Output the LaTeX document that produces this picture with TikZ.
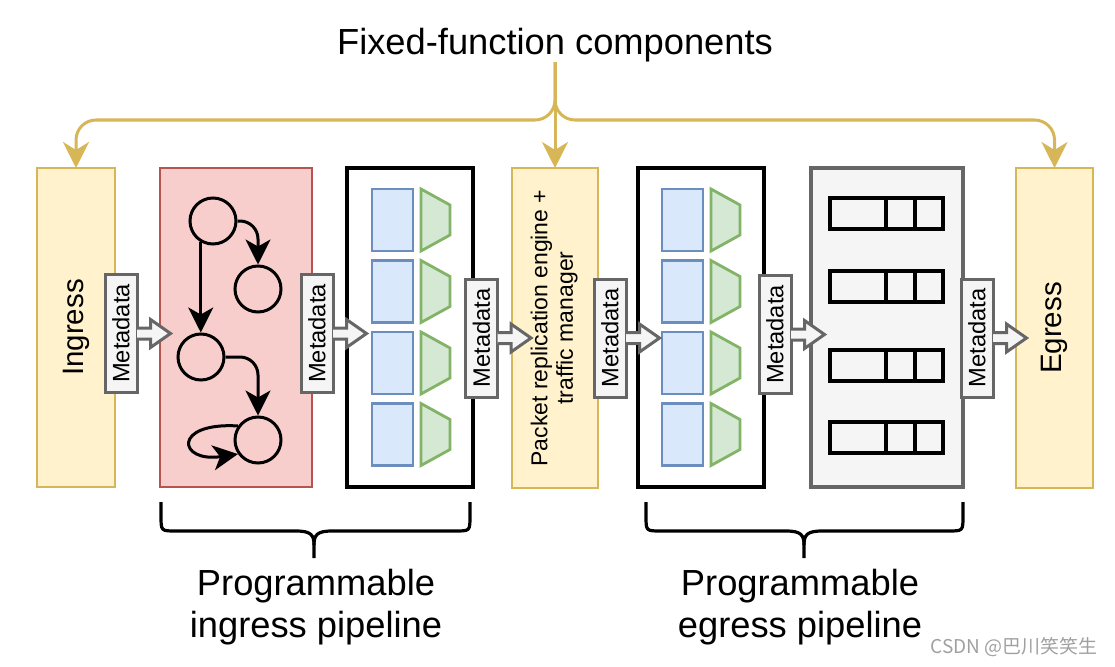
\documentclass[tikz,border=0pt]{standalone}
\usepackage{fontspec}
\setmainfont{Liberation Sans}
\newfontfamily\cjkfont{Noto Sans CJK SC}
\usetikzlibrary{arrows.meta,calc}
\definecolor{yfill}{HTML}{FFF2CC}
\definecolor{ystroke}{HTML}{D6B656}
\definecolor{rfill}{HTML}{F8CECC}
\definecolor{rstroke}{HTML}{B85450}
\definecolor{bfill}{HTML}{DAE8FC}
\definecolor{bstroke}{HTML}{6C8EBF}
\definecolor{gfill}{HTML}{D5E8D4}
\definecolor{gstroke}{HTML}{82B366}
\definecolor{grfill}{HTML}{F5F5F5}
\definecolor{grstroke}{HTML}{666666}
\definecolor{wmark}{HTML}{A0A0A0}
\newcommand\flexarrow[1]{\filldraw[flex] ($(#1.east)+(-1.5,-5.5)$) -- ++(13.5,0) -- ++(0,-8.5) -- ++(20,14) -- ++(-20,14) -- ++(0,-8.5) -- ++(-13.5,0);}
\begin{document}
\begin{tikzpicture}[x=1pt,y=-1pt,
  bigbox/.style={draw, line width=2.8pt, inner sep=0pt, outer sep=0pt, minimum height=319pt},
  ybox/.style={bigbox, fill=yfill, draw=ystroke},
  mbox/.style={draw=grstroke, fill=grfill, line width=3pt, inner sep=0pt, minimum width=32pt, minimum height=118pt, font=\fontsize{23.7}{28}\selectfont},
  flex/.style={draw=grstroke, fill=grfill, line width=3pt, line join=miter},
  bsq/.style={draw=bstroke, fill=bfill, line width=2.8pt, inner sep=0pt, minimum width=41pt, minimum height=62pt},
  gtrap/.style={draw=gstroke, fill=gfill, line width=2.8pt, line join=miter},
  trow/.style={draw=black, line width=3.2pt},
  circ/.style={draw, circle, line width=3pt, minimum size=46pt, inner sep=0pt},
  barrow/.style={draw, line width=3pt, -{Stealth[length=25pt, width=25pt, inset=7pt]}},
  yarrow/.style={draw=ystroke, line width=3pt, -{Stealth[length=26pt, width=26pt, inset=8pt]}},
  brace/.style={draw, line width=3.2pt},
  biglabel/.style={font=\fontsize{36.3}{42}\selectfont, align=center, inner sep=0pt}
]
\useasboundingbox (0,0) rectangle (1115,666);

% main boxes
\node[ybox, minimum width=78pt] (ingress) at (76,327.5) {\rotatebox{90}{\fontsize{29.5}{34}\selectfont Ingress}};
\node[bigbox, draw=rstroke, fill=rfill, minimum width=152pt] (sm) at (236,327.5) {};
\node[bigbox, draw=black, fill=white, line width=3.2pt, minimum width=126pt] (pipe1) at (410,327.5) {};
\node[ybox, minimum width=86pt, minimum height=320pt] (packet) at (555,328) {\rotatebox{90}{\fontsize{23}{25.5}\selectfont\begin{tabular}{@{}c@{}}Packet replication engine +\\traffic manager\end{tabular}}};
\node[bigbox, draw=black, fill=white, line width=3.2pt, minimum width=126pt] (pipe2) at (701,327.5) {};
\node[bigbox, draw=grstroke, fill=grfill, line width=3.2pt, minimum width=152pt] (tables) at (887,327.5) {};
\node[ybox, minimum width=77pt, minimum height=320pt] (egress) at (1054.5,328) {\rotatebox{90}{\fontsize{29.5}{34}\selectfont Egress}};

% match-action stages
\foreach \cy [count=\i] in {220,291.5,363,434.5} {
  \node[bsq] (ba\i) at (392.5,\cy) {};
  \draw[gtrap] (421,\cy-31) -- (450,\cy-15) -- (450,\cy+15) -- (421,\cy+31) -- cycle;
  \node[bsq] (bb\i) at (682.5,\cy) {};
  \draw[gtrap] (711,\cy-31) -- (740,\cy-15) -- (740,\cy+15) -- (711,\cy+31) -- cycle;
}

% tables
\foreach \cy in {213.5,286.5,365.5,437.5} {
  \draw[trow] (830,\cy-15.5) rectangle (943,\cy+15.5);
  \draw[trow] (886,\cy-15.5) -- (886,\cy+15.5);
  \draw[trow] (915,\cy-15.5) -- (915,\cy+15.5);
}

% state machine
\node[circ] (c1) at (213,221) {};
\node[circ] (c2) at (258,289) {};
\node[circ] (c3) at (201,357) {};
\node[circ] (c4) at (258,440) {};
\draw[barrow, rounded corners=18pt] (c1.east) -| (c2.north);
\draw[barrow] (c1.240) -- (c1.240 |- c3.north);
\draw[barrow, rounded corners=18pt] (c3.east) -| (c4.north);
\draw[barrow] (c4.145) .. controls (172,422) and (178,463) .. (c4.215);

% metadata boxes
\node[mbox] (m1) at (121,333.5) {\rotatebox{90}{Metadata}};
\node[mbox] (m2) at (317,333.5) {\rotatebox{90}{Metadata}};
\node[mbox] (m3) at (481.5,338) {\rotatebox{90}{Metadata}};
\node[mbox] (m4) at (610,338) {\rotatebox{90}{Metadata}};
\node[mbox] (m5) at (775,334.5) {\rotatebox{90}{Metadata}};
\node[mbox] (m6) at (977,338) {\rotatebox{90}{Metadata}};
\flexarrow{m1}
\flexarrow{m2}
\flexarrow{m3}
\flexarrow{m4}
\flexarrow{m5}
\flexarrow{m6}

% fixed-function connectors
\node[font=\fontsize{36.3}{42}\selectfont, inner sep=0pt] (title) at (555,45) {Fixed-function components};
\draw[yarrow, rounded corners=20pt] (title.south) |- ($(ingress.north)+(0,-48)$) -- (ingress.north);
\draw[yarrow] (title.south) -- (packet.north);
\draw[yarrow, rounded corners=20pt] (title.south) |- ($(egress.north)+(0,-48)$) -- (egress.north);

% braces
\draw[brace] (161,502) -- (161,516) .. controls (161,531) .. (176,531) -- (296,531)
  .. controls (311,531) and (314,535) .. (314,545) -- (314,558);
\draw[brace] (314,545) .. controls (314,535) and (317,531) .. (332,531) -- (455,531)
  .. controls (470,531) .. (470,516) -- (470,502);
\draw[brace] (646,502) -- (646,516) .. controls (646,531) .. (661,531) -- (786,531)
  .. controls (801,531) and (804,535) .. (804,545) -- (804,558);
\draw[brace] (804,545) .. controls (804,535) and (807,531) .. (822,531) -- (948,531)
  .. controls (963,531) .. (963,516) -- (963,502);

\node[biglabel] (lab1) at (316,607) {Programmable\\ingress pipeline};
\node[biglabel] (lab2) at (800,607) {Programmable\\egress pipeline};

\node[font=\cjkfont\fontsize{19}{22}\selectfont, text=wmark, inner sep=0pt] (wm) at (1014,647) {CSDN @巴川笑笑生};
\end{tikzpicture}
\end{document}
